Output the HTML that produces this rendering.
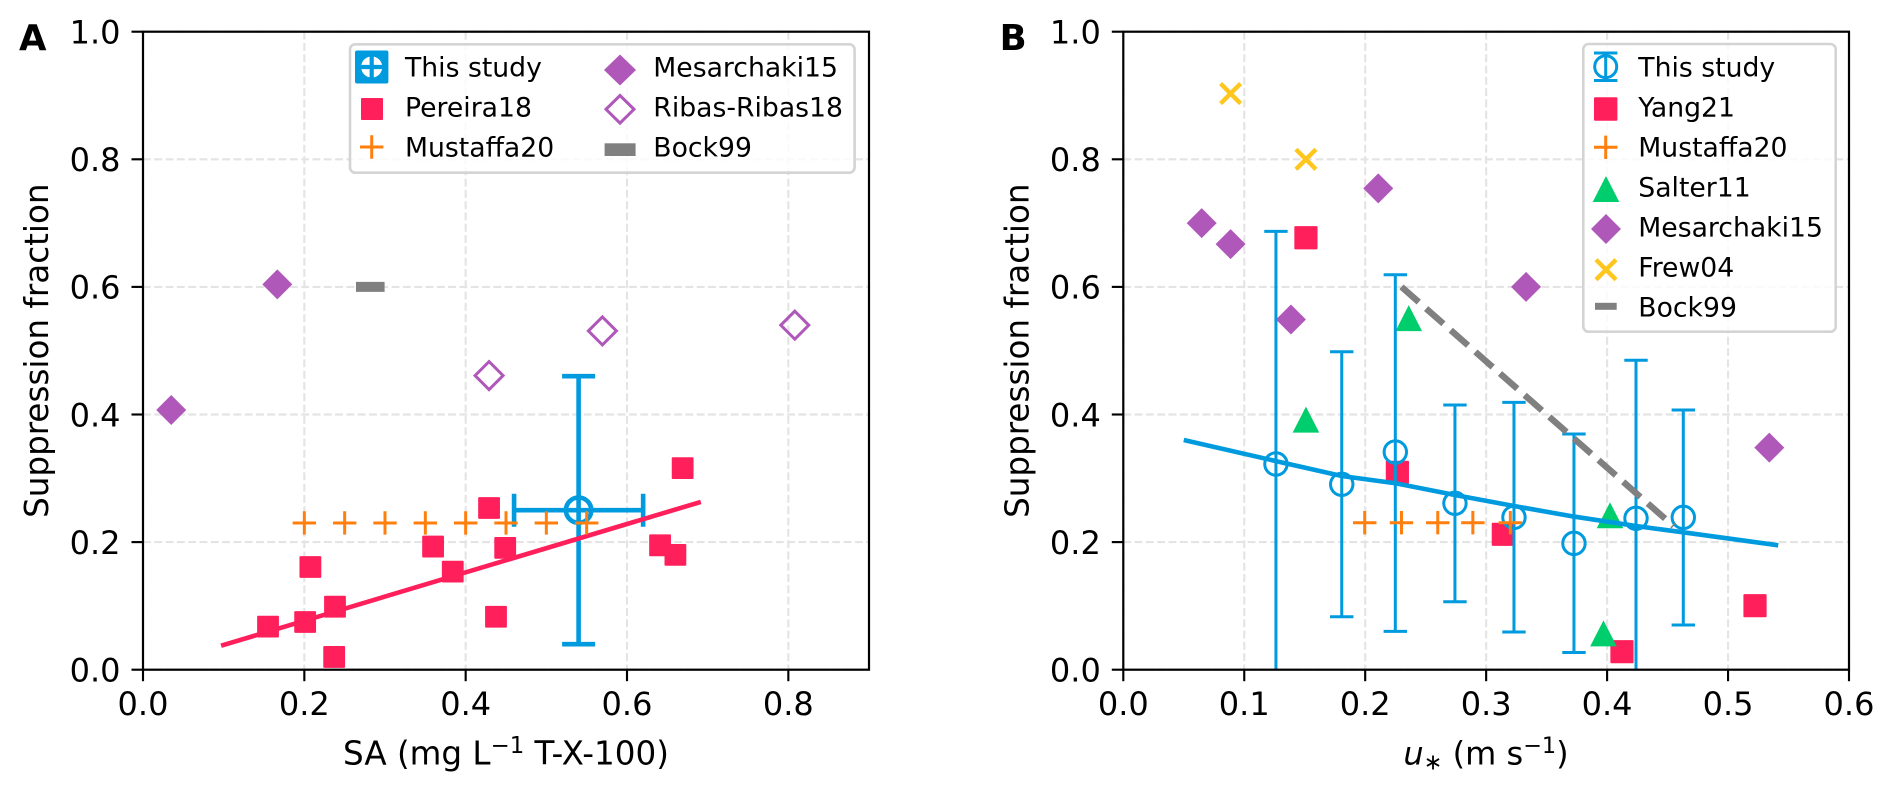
<!DOCTYPE html>
<html lang="en">
<head>
<meta charset="utf-8">
<title>Suppression fraction charts</title>
<style>
html,body{margin:0;padding:0;background:#fff;width:1892px;height:791px;overflow:hidden}
svg{display:block}
text{font-family:"DejaVu Sans","Liberation Sans",sans-serif;fill:#000}
.tick{font-size:32px}
.axt{font-size:32.6px}
.leg{font-size:26.67px}
.pl{font-size:35.5px;font-weight:bold}
</style>
</head>
<body>
<svg id="fig" xmlns="http://www.w3.org/2000/svg" width="1892" height="791" viewBox="0 0 1892 791">
  <defs>
    <clipPath id="clipA"><rect x="143" y="31.7" width="726" height="638"/></clipPath>
    <clipPath id="clipB"><rect x="1123.3" y="31.7" width="725.7" height="638"/></clipPath>
  </defs>
  <rect width="1892" height="791" fill="#fff"/>

  <g id="panelA">
    <g id="gridA"></g>
    <g id="marksA" clip-path="url(#clipA)"></g>
    <rect x="143" y="31.7" width="726" height="638" fill="none" stroke="#000" stroke-width="2.2"/>
    <g id="ticksA"></g>
    <text class="pl" x="19" y="50">A</text>
    <text class="axt" x="506" y="764.5" text-anchor="middle">SA (mg L<tspan font-size="22.8" dy="-11.5">−1</tspan><tspan dy="11.5"> T-X-100)</tspan></text>
    <text class="axt" transform="translate(48,350.7) rotate(-90)" text-anchor="middle">Suppression fraction</text>

    <g>
      <rect x="350" y="44.3" width="504.6" height="128.4" rx="5.3" fill="#fff" fill-opacity="0.8" stroke="#d4d4d4" stroke-width="2.6"/>
      <g>
        <rect x="355" y="50.5" width="33.4" height="33" rx="2" fill="#009ADE"/>
        <circle cx="371.7" cy="67" r="10.6" fill="#fff"/>
        <path d="M358 67H385.4M371.7 53V81" fill="none" stroke="#009ADE" stroke-width="4.2"/>
      </g>
      <text class="leg" x="405" y="76.3">This study</text>
      <rect x="361" y="98" width="22" height="22" rx="1" fill="#FF1F5B"/>
      <text class="leg" x="405" y="116.5">Pereira18</text>
      <path d="M360 147H383.4M371.7 135.3V158.7" stroke="#FF7F0E" stroke-width="3" fill="none"/>
      <text class="leg" x="405" y="156.5">Mustaffa20</text>
      <path d="M620 54.5L636 70L620 85.5L604 70Z" fill="#AF58BA"/>
      <text class="leg" x="653.3" y="76.3">Mesarchaki15</text>
      <path d="M620 95.5L634 109.3L620 123.1L606 109.3Z" fill="#fff" stroke="#AF58BA" stroke-width="3"/>
      <text class="leg" x="653.3" y="116.5">Ribas-Ribas18</text>
      <rect x="604.6" y="143.3" width="31" height="12.7" fill="#808080"/>
      <text class="leg" x="653.3" y="156.5">Bock99</text>
    </g>
  </g>

  <g id="panelB">
    <g id="gridB"></g>
    <g id="marksB" clip-path="url(#clipB)"></g>
    <rect x="1123.3" y="31.7" width="725.7" height="638" fill="none" stroke="#000" stroke-width="2.2"/>
    <g id="ticksB"></g>
    <text class="pl" x="999.6" y="50">B</text>
    <text class="axt" x="1486" y="764.5" text-anchor="middle" style="font-size:32px"><tspan font-style="italic">u</tspan><tspan font-size="22.4" dy="5">∗</tspan><tspan dy="-5"> (m s</tspan><tspan font-size="22.4" dy="-11.5">−1</tspan><tspan dy="11.5">)</tspan></text>
    <text class="axt" transform="translate(1028.3,350.7) rotate(-90)" text-anchor="middle">Suppression fraction</text>

    <g>
      <rect x="1583.3" y="44" width="252.4" height="287.7" rx="5.3" fill="#fff" fill-opacity="0.8" stroke="#d4d4d4" stroke-width="2.6"/>
      <g fill="none" stroke="#009ADE" stroke-width="3">
        <path d="M1605.7 53V80.5M1594 53H1617.4M1594 80.5H1617.4"/>
        <circle cx="1605.7" cy="66.7" r="11"/>
      </g>
      <text class="leg" x="1638.3" y="76.3">This study</text>
      <rect x="1594" y="97.3" width="23.4" height="23.4" rx="1" fill="#FF1F5B"/>
      <text class="leg" x="1638.3" y="116.5">Yang21</text>
      <path d="M1594 147.3H1617.4M1605.7 135.6V159" stroke="#FF7F0E" stroke-width="3" fill="none"/>
      <text class="leg" x="1638.3" y="156.5">Mustaffa20</text>
      <path d="M1606 176L1619.3 202H1592.7Z" fill="#00CD6C"/>
      <text class="leg" x="1638.3" y="196.5">Salter11</text>
      <path d="M1606 214L1621 229L1606 244L1591 229Z" fill="#AF58BA"/>
      <text class="leg" x="1638.3" y="236.5">Mesarchaki15</text>
      <path d="M1596 259.7L1616 279.7M1596 279.7L1616 259.7" stroke="#FFC61E" stroke-width="4.4" fill="none"/>
      <text class="leg" x="1638.3" y="276.5">Frew04</text>
      <rect x="1595" y="302.8" width="21.7" height="7" fill="#808080"/>
      <text class="leg" x="1638.3" y="316.5">Bock99</text>
    </g>
  </g>
</svg>

<script>
/* ---------- Panel A data ---------- */
const xTicksA = [0.0, 0.2, 0.4, 0.6, 0.8];
const yTicks = [0.0, 0.2, 0.4, 0.6, 0.8, 1.0];
const pereiraX = [0.155, 0.201, 0.238, 0.2075, 0.237, 0.3596, 0.384, 0.449, 0.4376, 0.429, 0.641, 0.660, 0.669];
const pereiraY = [0.0675, 0.0748, 0.0988, 0.161, 0.02, 0.193, 0.1537, 0.191, 0.083, 0.2534, 0.195, 0.18, 0.316];
const pereiraFitX = [0.0968, 0.6915];
const pereiraFitY = [0.0376, 0.263];
const mustaffaAX = [0.2, 0.25, 0.3, 0.35, 0.4, 0.45, 0.5, 0.55];
const mustaffaAY = [0.23, 0.23, 0.23, 0.23, 0.23, 0.23, 0.23, 0.23];
const mesarchakiAX = [0.035, 0.1665];
const mesarchakiAY = [0.407, 0.604];
const ribasX = [0.429, 0.5695, 0.808];
const ribasY = [0.461, 0.531, 0.54];
const bockAX = [0.264, 0.2995];
const bockAY = [0.6, 0.6];
const studyAX = [0.54];
const studyAY = [0.25];
const studyAXLow = [0.46];
const studyAXHigh = [0.62];
const studyAYLow = [0.04];
const studyAYHigh = [0.46];

/* ---------- Panel B data ---------- */
const xTicksB = [0.0, 0.1, 0.2, 0.3, 0.4, 0.5, 0.6];
const studyBX = [0.1262, 0.1806, 0.2249, 0.2742, 0.323, 0.3726, 0.4239, 0.463];
const studyBY = [0.3224, 0.2906, 0.3412, 0.2608, 0.2388, 0.198, 0.2373, 0.2388];
const studyBLow = [-0.04, 0.083, 0.06, 0.1066, 0.059, 0.027, -0.01, 0.07];
const studyBHigh = [0.687, 0.4984, 0.619, 0.4149, 0.419, 0.3694, 0.485, 0.407];
const studyFitX = [0.05, 0.1262, 0.1806, 0.2249, 0.2742, 0.323, 0.3726, 0.4239, 0.463, 0.5415];
const studyFitY = [0.36, 0.327, 0.3036, 0.2923, 0.2738, 0.2566, 0.24, 0.2252, 0.2153, 0.195];
const yangX = [0.151, 0.2266, 0.3142, 0.4123, 0.5223];
const yangY = [0.677, 0.3094, 0.2122, 0.0282, 0.1003];
const mustaffaBX = [0.1996, 0.23, 0.26, 0.289, 0.32];
const mustaffaBY = [0.2304, 0.2304, 0.2304, 0.2304, 0.2304];
const salterX = [0.151, 0.236, 0.4024, 0.397];
const salterY = [0.3919, 0.551, 0.242, 0.057];
const mesarchakiBX = [0.0648, 0.0887, 0.1386, 0.2108, 0.333, 0.5341];
const mesarchakiBY = [0.70, 0.667, 0.549, 0.7545, 0.60, 0.348];
const frewX = [0.0887, 0.151];
const frewY = [0.903, 0.80];
const bockBX = [0.23, 0.455];
const bockBY = [0.6, 0.225];

/* ---------- Scales ---------- */
const Y0 = 669.7, YH = 638;
const yS = v => Y0 - v * YH;
const xA = v => 143 + v * 806.67;
const xB = v => 1123.3 + v * 1209.5;

const BLUE = '#009ADE', PINK = '#FF1F5B', ORANGE = '#FF7F0E', GREEN = '#00CD6C',
      PURPLE = '#AF58BA', YELLOW = '#FFC61E', GRAY = '#808080', NS = 'http://www.w3.org/2000/svg';

function mk(tag, attrs, parent) {
  const n = document.createElementNS(NS, tag);
  for (const k in attrs) n.setAttribute(k, attrs[k]);
  parent.appendChild(n);
  return n;
}
function square(p, X, Y, s) {
  return mk('rect', {x: X - s / 2, y: Y - s / 2, width: s, height: s, rx: 1, fill: PINK}, p);
}
function plus(p, X, Y) {
  return mk('path', {d: `M${X - 11.7} ${Y}H${X + 11.7}M${X} ${Y - 11.7}V${Y + 11.7}`, stroke: ORANGE, 'stroke-width': 3, fill: 'none'}, p);
}
function cross(p, X, Y) {
  return mk('path', {d: `M${X - 10} ${Y - 10}L${X + 10} ${Y + 10}M${X - 10} ${Y + 10}L${X + 10} ${Y - 10}`, stroke: YELLOW, 'stroke-width': 4.4, fill: 'none'}, p);
}
function diamond(p, X, Y, r, fill, stroke) {
  return mk('path', {d: `M${X} ${Y - r}L${X + r} ${Y}L${X} ${Y + r}L${X - r} ${Y}Z`, fill: fill, stroke: stroke, 'stroke-width': stroke === 'none' ? 0 : 3}, p);
}
function tri(p, X, Y) {
  return mk('path', {d: `M${X} ${Y - 13}L${X + 13.3} ${Y + 13}H${X - 13.3}Z`, fill: GREEN}, p);
}
function poly(p, xs, ys, xf, stroke, w, dash) {
  const pts = xs.map((v, i) => xf(v) + ',' + yS(ys[i])).join(' ');
  const a = {points: pts, fill: 'none', stroke: stroke, 'stroke-width': w};
  if (dash) a['stroke-dasharray'] = dash;
  return mk('polyline', a, p);
}

function axes(gridId, tickId, xTicks, xf, left, right) {
  const g = document.getElementById(gridId), t = document.getElementById(tickId);
  xTicks.forEach(v => {
    const X = xf(v);
    const gl = mk('line', {x1: X, x2: X, y1: 31.7, y2: Y0, stroke: '#e4e4e4', 'stroke-width': 2.13, 'stroke-dasharray': '7.9 3.4'}, g);
    
    
    const tk = mk('line', {x1: X, x2: X, y1: Y0, y2: Y0 + 11.5, stroke: '#000', 'stroke-width': 2.13}, t);
    
    
    const lb = mk('text', {x: X, y: 715, 'text-anchor': 'middle', class: 'tick'}, t);
    lb.textContent = v.toFixed(1);
    
    
  });
  yTicks.forEach(v => {
    const Y = yS(v);
    const gl = mk('line', {x1: left, x2: right, y1: Y, y2: Y, stroke: '#e4e4e4', 'stroke-width': 2.13, 'stroke-dasharray': '7.9 3.4'}, g);
    
    
    const tk = mk('line', {x1: left - 11.5, x2: left, y1: Y, y2: Y, stroke: '#000', 'stroke-width': 2.13}, t);
    
    
    const lb = mk('text', {x: left - 22.5, y: Y + 11.8, 'text-anchor': 'end', class: 'tick'}, t);
    lb.textContent = v.toFixed(1);
    
    
  });
}
axes('gridA', 'ticksA', xTicksA, xA, 143, 869);
axes('gridB', 'ticksB', xTicksB, xB, 1123.3, 1849);

/* ---------- Panel A marks ---------- */
const mA = document.getElementById('marksA');
studyAX.forEach((v, i) => {
  const X = xA(v), Y = yS(studyAY[i]), xl = xA(studyAXLow[i]), xh = xA(studyAXHigh[i]), yl = yS(studyAYLow[i]), yh = yS(studyAYHigh[i]);
  const e = mk('path', {d: `M${xl} ${Y}H${xh}M${X} ${yl}V${yh}M${xl} ${Y - 16.5}V${Y + 16.5}M${xh} ${Y - 16.5}V${Y + 16.5}M${X - 16.5} ${yl}H${X + 16.5}M${X - 16.5} ${yh}H${X + 16.5}`, stroke: BLUE, 'stroke-width': 4.6, fill: 'none'}, mA);
  
  
  const c = mk('circle', {cx: X, cy: Y, r: 12.7, fill: 'none', stroke: BLUE, 'stroke-width': 4.6}, mA);
  
  
});
const fitA = poly(mA, pereiraFitX, pereiraFitY, xA, PINK, 4.6);


pereiraX.forEach((v, i) => {
  const m = square(mA, xA(v), yS(pereiraY[i]), 21.8);
  
  
});
mustaffaAX.forEach((v, i) => {
  const m = plus(mA, xA(v), yS(mustaffaAY[i]));
  
  
});
mesarchakiAX.forEach((v, i) => {
  const m = diamond(mA, xA(v), yS(mesarchakiAY[i]), 15, PURPLE, 'none');
  
  
});
ribasX.forEach((v, i) => {
  const m = diamond(mA, xA(v), yS(ribasY[i]), 14, 'none', PURPLE);
  
  
});
const bockA = poly(mA, bockAX, bockAY, xA, GRAY, 10);



/* ---------- Panel B marks ---------- */
const mB = document.getElementById('marksB');
yangX.forEach((v, i) => {
  const m = square(mB, xB(v), yS(yangY[i]), 23.2);
  
  
});
salterX.forEach((v, i) => {
  const m = tri(mB, xB(v), yS(salterY[i]));
  
  
});
mesarchakiBX.forEach((v, i) => {
  const m = diamond(mB, xB(v), yS(mesarchakiBY[i]), 15, PURPLE, 'none');
  
  
});
frewX.forEach((v, i) => {
  const m = cross(mB, xB(v), yS(frewY[i]));
  
  
});
studyBX.forEach((v, i) => {
  const X = xB(v), Y = yS(studyBY[i]), yl = yS(studyBLow[i]), yh = yS(studyBHigh[i]);
  const e = mk('path', {d: `M${X} ${yl}V${yh}M${X - 11.7} ${yl}H${X + 11.7}M${X - 11.7} ${yh}H${X + 11.7}`, stroke: BLUE, 'stroke-width': 3, fill: 'none'}, mB);
  
  
  const c = mk('circle', {cx: X, cy: Y, r: 11.2, fill: 'none', stroke: BLUE, 'stroke-width': 3}, mB);
  
  
});
const fitB = poly(mB, studyFitX, studyFitY, xB, BLUE, 4.6);


mustaffaBX.forEach((v, i) => {
  const m = plus(mB, xB(v), yS(mustaffaBY[i]));
  
  
});
const bockB = poly(mB, bockBX, bockBY, xB, GRAY, 6.4, '23 9.8');


</script>
</body>
</html>
